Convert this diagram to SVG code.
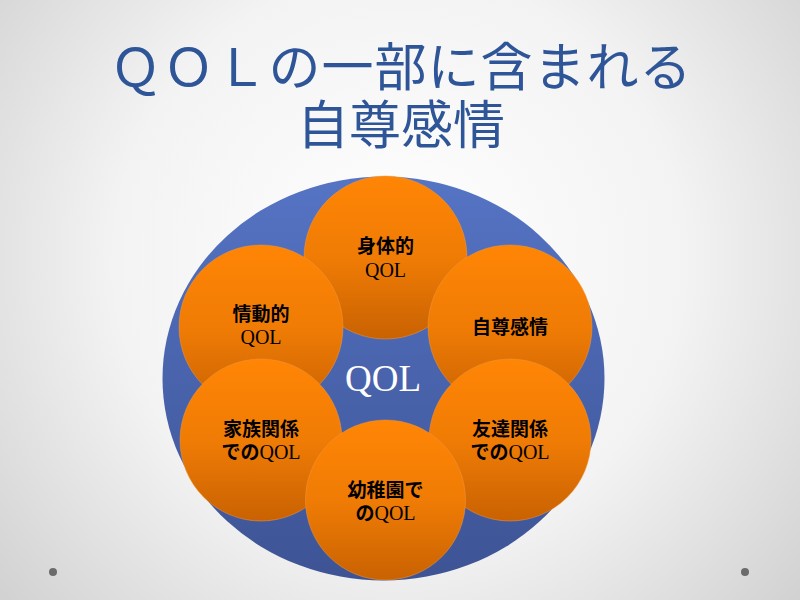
<svg xmlns="http://www.w3.org/2000/svg" width="800" height="600" viewBox="0 0 800 600">
<defs>
<radialGradient id="bg" cx="400" cy="260" r="520" gradientUnits="userSpaceOnUse">
<stop offset="0" stop-color="#ffffff"/>
<stop offset="0.55" stop-color="#f3f3f3"/>
<stop offset="1" stop-color="#d2d2d2"/>
</radialGradient>
<linearGradient id="blue" x1="0" y1="0" x2="0" y2="1">
<stop offset="0" stop-color="#5574c4"/>
<stop offset="1" stop-color="#3d5394"/>
</linearGradient>
<linearGradient id="orange" x1="0" y1="0" x2="0" y2="1">
<stop offset="0" stop-color="#ff8505"/>
<stop offset="0.5" stop-color="#f07c05"/>
<stop offset="1" stop-color="#c96202"/>
</linearGradient>
<style>
.c{fill:url(#orange);stroke:#f39a40;stroke-width:0.8;stroke-opacity:0.6}
.t{font-family:"Liberation Serif","Noto Sans CJK JP",serif;font-size:20px;fill:#000;text-anchor:middle}
.j{font-family:"Noto Sans CJK JP",sans-serif;font-size:19px;font-weight:bold}
.title{font-family:"Noto Sans CJK JP",sans-serif;font-size:52px;fill:#2e5597;text-anchor:middle}
</style>
</defs>
<rect width="800" height="600" fill="url(#bg)"/>
<g id="title">
<text class="title" x="401" y="86" letter-spacing="1">ＱＯＬの一部に含まれる</text>
<text class="title" x="401" y="144">自尊感情</text>
</g>
<g id="qol-center">
<ellipse cx="383.5" cy="378.5" rx="221" ry="202" fill="url(#blue)"/>
<text x="383" y="391" font-family="Liberation Serif, serif" font-size="37" fill="#fff" text-anchor="middle">QOL</text>
</g>
<g id="physical">
<circle class="c" cx="385.5" cy="257.5" r="81.5"/>
<text class="t" x="385.5" y="253"><tspan class="j">身体的</tspan></text>
<text class="t" x="385.5" y="277">QOL</text>
</g>
<g id="emotional">
<circle class="c" cx="261" cy="327" r="82"/>
<text class="t" x="261" y="321"><tspan class="j">情動的</tspan></text>
<text class="t" x="261" y="344">QOL</text>
</g>
<g id="self-esteem">
<circle class="c" cx="510" cy="327" r="82"/>
<text class="t" x="510" y="334"><tspan class="j">自尊感情</tspan></text>
</g>
<g id="family">
<circle class="c" cx="261" cy="440" r="81"/>
<text class="t" x="261" y="436"><tspan class="j">家族関係</tspan></text>
<text class="t" x="261" y="459"><tspan class="j">での</tspan>QOL</text>
</g>
<g id="friends">
<circle class="c" cx="510" cy="440" r="81"/>
<text class="t" x="510" y="436"><tspan class="j">友達関係</tspan></text>
<text class="t" x="510" y="459"><tspan class="j">での</tspan>QOL</text>
</g>
<g id="kindergarten">
<circle class="c" cx="385.5" cy="500" r="80"/>
<text class="t" x="385.5" y="497"><tspan class="j">幼稚園で</tspan></text>
<text class="t" x="385.5" y="520"><tspan class="j">の</tspan>QOL</text>
</g>
<g id="dots" fill="#6b6b6b">
<circle cx="53" cy="572" r="4"/>
<circle cx="745" cy="572" r="4"/>
</g>
<g id="connectors"/>
</svg>
